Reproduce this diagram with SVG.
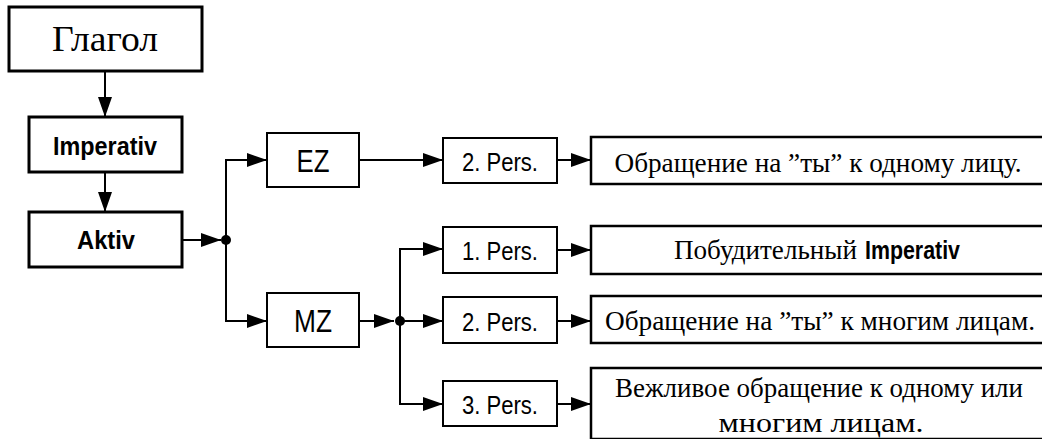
<svg xmlns="http://www.w3.org/2000/svg" width="1042" height="439" viewBox="0 0 1042 439">
<defs>
<style>
.box{fill:#fff;stroke:#000;stroke-width:2}
.thick{stroke-width:3}
.mid{stroke-width:2.5}
.serif{font-family:"Liberation Serif","Times New Roman",serif;fill:#000}
.sans{font-family:"Liberation Sans",Arial,sans-serif;fill:#000}
.bold{font-weight:bold}
.ln{fill:none;stroke:#000;stroke-width:2}
.dot{fill:#000}
</style>
<marker id="ah" markerUnits="userSpaceOnUse" markerWidth="20" markerHeight="14" refX="20" refY="7" orient="auto">
<path d="M0,0 L20,7 L0,14 z" fill="#000"/>
</marker>
</defs>
<rect width="1042" height="439" fill="#fff"/>
<g id="connectors">
<line class="ln" x1="105" y1="71" x2="105" y2="117" marker-end="url(#ah)"/>
<line class="ln" x1="105" y1="172" x2="105" y2="212" marker-end="url(#ah)"/>
<line class="ln" x1="182" y1="240" x2="221" y2="240" marker-end="url(#ah)"/>
<polyline class="ln" points="250,160 226,160 226,321 250,321"/>
<line class="ln" x1="226" y1="160" x2="267" y2="160" marker-end="url(#ah)"/>
<line class="ln" x1="226" y1="321" x2="267" y2="321" marker-end="url(#ah)"/>
<circle class="dot" cx="226" cy="240" r="5"/>
<line class="ln" x1="359" y1="160" x2="443" y2="160" marker-end="url(#ah)"/>
<line class="ln" x1="557" y1="160" x2="591" y2="160" marker-end="url(#ah)"/>
<line class="ln" x1="359" y1="321" x2="394" y2="321" marker-end="url(#ah)"/>
<polyline class="ln" points="420,249 400,249 400,404 420,404"/>
<line class="ln" x1="400" y1="249" x2="443" y2="249" marker-end="url(#ah)"/>
<line class="ln" x1="400" y1="321" x2="443" y2="321" marker-end="url(#ah)"/>
<line class="ln" x1="400" y1="404" x2="443" y2="404" marker-end="url(#ah)"/>
<circle class="dot" cx="400" cy="321" r="5"/>
<line class="ln" x1="557" y1="250" x2="591" y2="250" marker-end="url(#ah)"/>
<line class="ln" x1="557" y1="321" x2="591" y2="321" marker-end="url(#ah)"/>
<line class="ln" x1="557" y1="404" x2="591" y2="404" marker-end="url(#ah)"/>
</g>
<g id="glagol">
<rect class="box thick" x="9" y="7" width="193" height="64"/>
<text class="serif" x="105" y="51" font-size="35" text-anchor="middle" textLength="106" lengthAdjust="spacingAndGlyphs">Глагол</text>
</g>
<g id="imperativ">
<rect class="box thick" x="29" y="117" width="153" height="55"/>
<text class="sans bold" x="105" y="155" font-size="26" text-anchor="middle" textLength="104" lengthAdjust="spacingAndGlyphs">Imperativ</text>
</g>
<g id="aktiv">
<rect class="box thick" x="29" y="212" width="153" height="55"/>
<text class="sans bold" x="106" y="249" font-size="26" text-anchor="middle" textLength="58" lengthAdjust="spacingAndGlyphs">Aktiv</text>
</g>
<g id="ez">
<rect class="box" x="267" y="133" width="92" height="54"/>
<text class="sans" x="313" y="172" font-size="31" text-anchor="middle" textLength="33" lengthAdjust="spacingAndGlyphs">EZ</text>
</g>
<g id="mz">
<rect class="box" x="267" y="293" width="92" height="54"/>
<text class="sans" x="313" y="332" font-size="31" text-anchor="middle" textLength="38" lengthAdjust="spacingAndGlyphs">MZ</text>
</g>
<g id="ez-2pers">
<rect class="box" x="443" y="138" width="114" height="45"/>
<text class="sans" x="500" y="171" font-size="26" text-anchor="middle" textLength="76" lengthAdjust="spacingAndGlyphs">2. Pers.</text>
</g>
<g id="mz-1pers">
<rect class="box" x="443" y="227" width="114" height="46"/>
<text class="sans" x="500" y="260" font-size="26" text-anchor="middle" textLength="76" lengthAdjust="spacingAndGlyphs">1. Pers.</text>
</g>
<g id="mz-2pers">
<rect class="box" x="443" y="297" width="114" height="46"/>
<text class="sans" x="500" y="331" font-size="26" text-anchor="middle" textLength="76" lengthAdjust="spacingAndGlyphs">2. Pers.</text>
</g>
<g id="mz-3pers">
<rect class="box" x="443" y="381" width="114" height="45"/>
<text class="sans" x="500" y="414" font-size="26" text-anchor="middle" textLength="76" lengthAdjust="spacingAndGlyphs">3. Pers.</text>
</g>
<g id="desc-ez2">
<rect class="box mid" x="591" y="137" width="460" height="47"/>
<text class="serif" x="818" y="172" font-size="27" text-anchor="middle" textLength="407" lengthAdjust="spacingAndGlyphs">Обращение на ”ты” к одному лицу.</text>
</g>
<g id="desc-mz1">
<rect class="box mid" x="591" y="226" width="460" height="48"/>
<text class="serif" x="674" y="259" font-size="27" textLength="183" lengthAdjust="spacingAndGlyphs">Побудительный</text>
<text class="sans bold" x="865" y="259" font-size="25" textLength="95" lengthAdjust="spacingAndGlyphs">Imperativ</text>
</g>
<g id="desc-mz2">
<rect class="box mid" x="591" y="296" width="460" height="47"/>
<text class="serif" x="820" y="330" font-size="27" text-anchor="middle" textLength="430" lengthAdjust="spacingAndGlyphs">Обращение на ”ты” к многим лицам.</text>
</g>
<g id="desc-mz3">
<rect class="box mid" x="591" y="368" width="460" height="71"/>
<text class="serif" x="819" y="397" font-size="27" text-anchor="middle" textLength="408" lengthAdjust="spacingAndGlyphs">Вежливое обращение к одному или</text>
<text class="serif" x="821" y="432" font-size="27" text-anchor="middle" textLength="205" lengthAdjust="spacingAndGlyphs">многим лицам.</text>
</g>
</svg>
